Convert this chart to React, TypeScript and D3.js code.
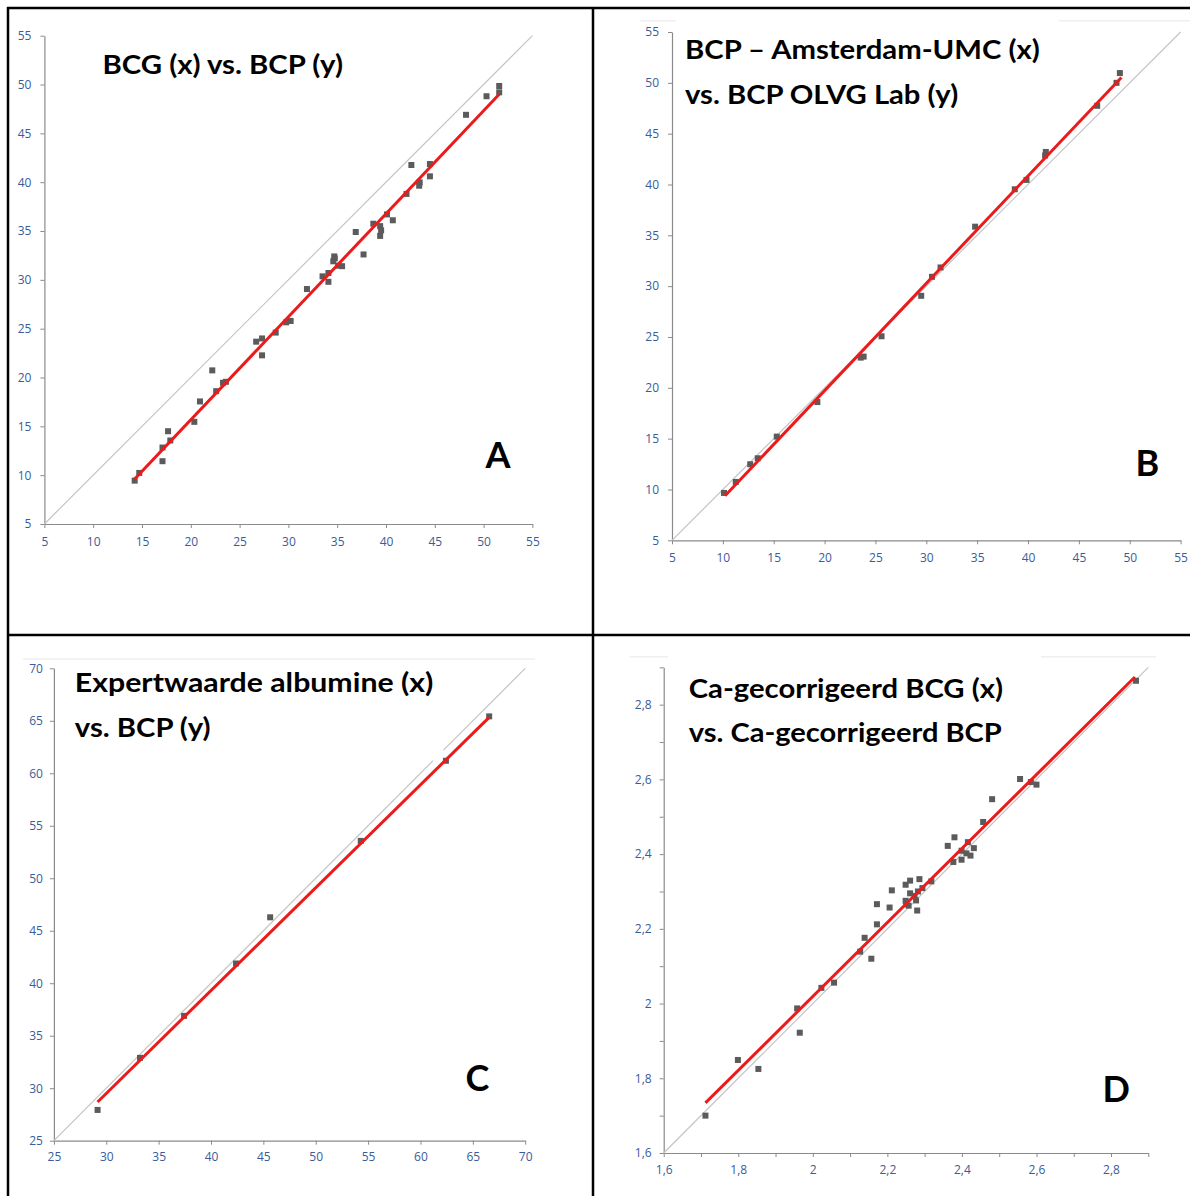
import React, { useEffect, useRef } from "react";
import * as d3 from "d3";

// Panel A: BCG (x) vs. BCP (y)
const aX = [51.6, 51.6, 50.3, 48.2, 42.6, 44.5, 44.5, 43.45, 43.4, 42.1, 40.1, 40.7, 38.7, 39.4, 39.5, 39.4, 36.9, 37.7, 34.7, 34.75, 34.6, 35.1, 35.5, 33.5, 34.1, 34.1, 31.9, 30.23, 29.77, 28.7, 27.3, 26.7, 27.3, 22.2, 23.6, 23.3, 22.6, 20.94, 20.36, 17.67, 17.9, 17.1, 17.1, 14.72, 14.25];
const aY = [49.85, 49.2, 48.8, 46.9, 41.76, 41.86, 40.6, 39.98, 39.64, 38.8, 36.7, 36.1, 35.75, 35.5, 35.07, 34.5, 34.9, 32.6, 32.4, 32.2, 31.9, 31.45, 31.4, 30.36, 30.7, 29.8, 29.06, 25.79, 25.65, 24.6, 24.0, 23.67, 22.27, 20.73, 19.56, 19.46, 18.6, 17.55, 15.46, 14.5, 13.55, 12.83, 11.43, 10.23, 9.44];
const aTrend = [[14.25, 9.6], [51.6, 49.0]];

// Panel B: BCP Amsterdam-UMC (x) vs. BCP OLVG Lab (y)
const bX = [49.03, 48.7, 46.8, 41.75, 41.68, 39.85, 38.7, 34.8, 31.4, 30.56, 29.5, 25.6, 23.84, 23.55, 19.29, 15.3, 13.43, 12.69, 11.27, 10.11];
const bY = [50.96, 50.0, 47.74, 43.2, 42.85, 40.45, 39.53, 35.85, 31.84, 30.92, 29.05, 25.07, 23.07, 22.97, 18.6, 15.2, 13.07, 12.48, 10.74, 9.66];
const bTrend = [[10.22, 9.39], [49.18, 50.53]];

// Panel C: Expertwaarde albumine (x) vs. BCP (y)
const cX = [66.56, 62.43, 54.3, 45.65, 42.39, 37.43, 33.22, 29.17];
const cY = [65.42, 61.19, 53.56, 46.28, 41.88, 36.89, 32.89, 27.93];
const cTrend = [[29.17, 28.69], [66.56, 65.33]];

// Panel D: Ca-gecorrigeerd BCG (x) vs. Ca-gecorrigeerd BCP (y)
const dX = [2.867, 2.556, 2.585, 2.6, 2.481, 2.457, 2.362, 2.38, 2.416, 2.432, 2.399, 2.412, 2.423, 2.377, 2.399, 2.318, 2.286, 2.261, 2.249, 2.212, 2.294, 2.282, 2.261, 2.273, 2.249, 2.277, 2.251, 2.172, 2.206, 2.28, 2.257, 2.172, 2.139, 2.127, 2.157, 2.057, 2.023, 1.958, 1.965, 1.799, 1.854, 1.712];
const dY = [2.864, 2.601, 2.593, 2.586, 2.547, 2.486, 2.422, 2.445, 2.432, 2.416, 2.409, 2.402, 2.396, 2.379, 2.385, 2.327, 2.333, 2.329, 2.318, 2.303, 2.309, 2.3, 2.295, 2.288, 2.275, 2.276, 2.266, 2.266, 2.257, 2.249, 2.262, 2.212, 2.176, 2.139, 2.12, 2.056, 2.042, 1.987, 1.922, 1.849, 1.825, 1.7];
const dTrend = [[1.712, 1.734], [2.864, 2.874]];

const ticks5to55 = [5, 10, 15, 20, 25, 30, 35, 40, 45, 50, 55];
const ticks25to70 = [25, 30, 35, 40, 45, 50, 55, 60, 65, 70];
const ticksCa = [1.6, 1.7, 1.8, 1.9, 2.0, 2.1, 2.2, 2.3, 2.4, 2.5, 2.6, 2.7, 2.8, 2.9];

const fmtInt = (d) => String(d);
const fmtCa = (d) => (Math.round(d * 10) % 2 === 0 ? String(+d.toFixed(1)).replace(".", ",") : "");

const panels = [
  {
    xs: aX, ys: aY, trend: aTrend, identity: [[5, 55]],
    xDomain: [5, 55], yDomain: [5, 55], ticks: ticks5to55, fmt: fmtInt,
    left: 44.4, right: 532.4, top: 35.7, bottom: 524, xPad: 9, yPad: 9,
    title: [{ text: "BCG (x) vs. BCP (y)", x: 102.5, y: 74, w: 240.5 }],
    letter: { text: "A", x: 485.5, y: 468.3 },
  },
  {
    xs: bX, ys: bY, trend: bTrend, identity: [[5, 55]],
    xDomain: [5, 55], yDomain: [5, 55], ticks: ticks5to55, fmt: fmtInt,
    left: 672, right: 1180.6, top: 32, bottom: 540.3, xPad: 9, yPad: 9,
    title: [
      { text: "BCP – Amsterdam-UMC (x)", x: 685, y: 59.3, w: 354.8 },
      { text: "vs. BCP OLVG Lab (y)", x: 685, y: 104, w: 273.2 },
    ],
    letter: { text: "B", x: 1135.5, y: 476 },
  },
  {
    xs: cX, ys: cY, trend: cTrend, identity: [[25, 61.2], [62.2, 70]],
    xDomain: [25, 70], yDomain: [25, 70], ticks: ticks25to70, fmt: fmtInt,
    left: 53.9, right: 525.2, top: 668.3, bottom: 1140.7, xPad: 8, yPad: 7,
    title: [
      { text: "Expertwaarde albumine (x)", x: 74.8, y: 692.3, w: 358.6 },
      { text: "vs. BCP (y)", x: 74.8, y: 737, w: 135.8 },
    ],
    letter: { text: "C", x: 465.5, y: 1090.7 },
  },
  {
    xs: dX, ys: dY, trend: dTrend, identity: [[1.6, 2.9]],
    xDomain: [1.6, 2.9], yDomain: [1.6, 2.9], ticks: ticksCa, fmt: fmtCa,
    left: 663.7, right: 1148.3, top: 667.3, bottom: 1153, xPad: 8, yPad: 8,
    title: [
      { text: "Ca-gecorrigeerd BCG (x)", x: 688.7, y: 698.3, w: 314.3 },
      { text: "vs. Ca-gecorrigeerd BCP", x: 688.7, y: 742.3, w: 313.1 },
    ],
    letter: { text: "D", x: 1102.5, y: 1101.7 },
  },
];

// faint remnants of the chart-area borders
const faintLines = [
  [640.5, 675.8, 20.7], [1058.8, 1190, 20.7],
  [23, 535, 659],
  [630, 668, 656.7], [1041, 1156, 656.7],
];

const AXIS_COLOR = "#8a8a8a";
const LABEL_COLOR = "#3b5b9a";

function drawPanel(svg, p) {
  const g = svg.append("g");
  const x = d3.scaleLinear().domain(p.xDomain).range([p.left, p.right]);
  const y = d3.scaleLinear().domain(p.yDomain).range([p.bottom, p.top]);

  // axes
  const xAxis = d3.axisBottom(x).tickValues(p.ticks).tickSize(4).tickSizeOuter(0).tickPadding(p.xPad).tickFormat(p.fmt);
  const yAxis = d3.axisLeft(y).tickValues(p.ticks).tickSize(4).tickSizeOuter(0).tickPadding(p.yPad).tickFormat(p.fmt);
  const gx = g.append("g").attr("transform", `translate(0,${p.bottom})`).call(xAxis);
  const gy = g.append("g").attr("transform", `translate(${p.left},0)`).call(yAxis);
  [gx, gy].forEach(a => {
    a.select(".domain").attr("stroke", AXIS_COLOR).attr("stroke-width", 1.2);
    a.selectAll(".tick line").attr("stroke", AXIS_COLOR);
    a.selectAll(".tick text")
      .attr("fill", LABEL_COLOR)
      .style("font-family", "'Open Sans', sans-serif")
      .style("font-size", "12px");
  });

  // line of identity
  const line = d3.line().x(d => x(d[0])).y(d => y(d[1]));
  p.identity.forEach(seg => {
    g.append("path")
      .datum([[seg[0], seg[0]], [seg[1], seg[1]]])
      .attr("fill", "none")
      .attr("stroke", "#c4c4c4")
      .attr("stroke-width", 1.2)
      .attr("d", line);
  });

  // points
  g.append("g")
    .selectAll("rect")
    .data(p.xs.map((v, i) => [v, p.ys[i]]))
    .join("rect")
    .attr("x", d => x(d[0]) - 3)
    .attr("y", d => y(d[1]) - 3)
    .attr("width", 6)
    .attr("height", 6)
    .attr("fill", "#5b5b5b");

  // trendline
  g.append("path")
    .datum(p.trend)
    .attr("fill", "none")
    .attr("stroke", "#ec1b1b")
    .attr("stroke-width", 3)
    .attr("d", line);

  // titles
  p.title.forEach(t => {
    g.append("text")
      .attr("x", t.x)
      .attr("y", t.y)
      .attr("textLength", t.w)
      .attr("lengthAdjust", "spacingAndGlyphs")
      .style("font-family", "Lato, 'Open Sans', sans-serif")
      .style("font-weight", 700)
      .style("font-size", "27px")
      .attr("fill", "#000")
      .text(t.text);
  });

  g.append("text")
    .attr("x", p.letter.x)
    .attr("y", p.letter.y)
    .style("font-family", "Lato, 'Open Sans', sans-serif")
    .style("font-weight", 700)
    .style("font-size", "36px")
    .attr("fill", "#000")
    .text(p.letter.text);
}

export default function App() {
  const svgRef = useRef(null);

  useEffect(() => {
    const svg = d3.select(svgRef.current);
    svg.selectAll("*").remove();

    svg.append("rect").attr("width", 1190).attr("height", 1196).attr("fill", "#fff");

    faintLines.forEach(([x1, x2, yy]) => {
      svg.append("line")
        .attr("x1", x1).attr("x2", x2).attr("y1", yy).attr("y2", yy)
        .attr("stroke", "#efefef").attr("stroke-width", 1.5);
    });

    panels.forEach(p => drawPanel(svg, p));

    // table borders
    const borders = [
      [7, 8, 1190, 8],
      [8, 7, 8, 1196],
      [593, 7, 593, 1196],
      [7, 635, 1190, 635],
    ];
    borders.forEach(([x1, y1, x2, y2]) => {
      svg.append("line")
        .attr("x1", x1).attr("y1", y1).attr("x2", x2).attr("y2", y2)
        .attr("stroke", "#000").attr("stroke-width", 2.5);
    });
  }, []);

  return (
    <svg
      ref={svgRef}
      width={1190}
      height={1196}
      style={{ position: "absolute", left: 0, top: 0, display: "block" }}
    />
  );
}
